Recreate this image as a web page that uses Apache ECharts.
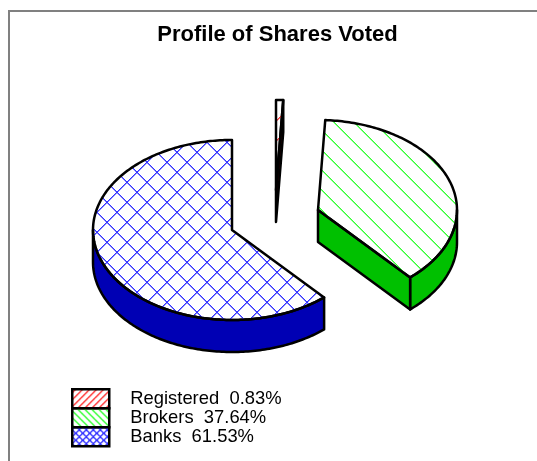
<!DOCTYPE html>
<html>
<head>
<meta charset="utf-8">
<style>
  html, body { margin: 0; padding: 0; background: #fff; }
  #chart { width: 537px; height: 461px; }
</style>
<script src="https://cdn.jsdelivr.net/npm/echarts@6/dist/echarts.min.js"></script>
</head>
<body>
<div id="chart"></div>
<script>
const categories = ['Registered', 'Brokers', 'Banks'];
const shares = [0.83, 37.64, 61.53];

// where each slice's top face sits on the page, pulled apart like the original
const centers = [[276, 190], [318, 210], [232, 230]];
const radiusX = 139;
const radiusY = 90;
const depth = 32;

const hatchColors = ['#ff3333', '#33ff33', '#3333ff'];
const wallColors = ['#c00000', '#00c000', '#0000b4'];
// x+y and x-y offsets of the hatch lines, null when that direction is not used
const hatchPhases = [[16, null], [null, 12], [8, 5]];

// pixel stepped diagonal lines, the reference hatch is not smoothed
function hatch(size, color, phases, soft) {
  const c = document.createElement('canvas');
  c.width = c.height = size;
  const ctx = c.getContext('2d');
  ctx.fillStyle = color;
  const mod = function (v) { return ((v % size) + size) % size; };
  for (let x = 0; x < size; x++) {
    if (phases[0] !== null) {
      const y = mod(phases[0] - x);
      ctx.globalAlpha = 1;
      ctx.fillRect(x, y, 1, 1);
      ctx.globalAlpha = soft;
      ctx.fillRect(x, mod(y + 1), 1, 1);
    }
    if (phases[1] !== null) {
      const y = mod(x - phases[1]);
      ctx.globalAlpha = 1;
      ctx.fillRect(x, y, 1, 1);
      ctx.globalAlpha = soft;
      ctx.fillRect(x, mod(y + 1), 1, 1);
    }
  }
  return c;
}

function rim(cx, cy, from, to) {
  const pts = [];
  const n = Math.max(2, Math.ceil(Math.abs(to - from)));
  for (let i = 0; i <= n; i++) {
    const a = (from + (to - from) * i / n) * Math.PI / 180;
    pts.push([cx + radiusX * Math.cos(a), cy - radiusY * Math.sin(a)]);
  }
  return pts;
}

const lineStyle = { stroke: '#000', lineWidth: 2.5, lineJoin: 'round' };

function sliceRenderer(idx) {
  return function (params, api) {
    const start = api.value(0);
    const end = start - api.value(1) * 3.6;
    const cx = centers[idx][0];
    const cy = centers[idx][1];
    const kids = [];

    // outer wall, only the part of the rim that faces the viewer
    const wallFrom = Math.min(start, 0);
    const wallTo = Math.max(end, -180);
    if (wallFrom > wallTo) {
      const top = rim(cx, cy, wallFrom, wallTo);
      const bottom = top.map(function (p) { return [p[0], p[1] + depth]; }).reverse();
      kids.push({
        type: 'polygon',
        shape: { points: top.concat(bottom) },
        style: Object.assign({ fill: wallColors[idx] }, lineStyle)
      });
    }

    // cut face at the clockwise end of the slice
    if (Math.cos(end * Math.PI / 180) > 1e-6) {
      const edge = rim(cx, cy, end, end)[0];
      kids.push({
        type: 'polygon',
        shape: { points: [[cx, cy], edge, [edge[0], edge[1] + depth], [cx, cy + depth]] },
        style: Object.assign({ fill: wallColors[idx] }, lineStyle)
      });
    }

    kids.push({
      type: 'polygon',
      shape: { points: [[cx, cy]].concat(rim(cx, cy, start, end)) },
      style: Object.assign({
        fill: { image: hatch(20, hatchColors[idx], hatchPhases[idx], 0.6), repeat: 'repeat' }
      }, lineStyle)
    });
    return { type: 'group', children: kids };
  };
}

let startAngle = 90;
const series = categories.map(function (name, i) {
  const row = [startAngle, shares[i]];
  startAngle -= shares[i] * 3.6;
  return {
    name: name,
    type: 'custom',
    coordinateSystem: 'none',
    silent: true,
    z: 2 + i,
    renderItem: sliceRenderer(i),
    data: [row]
  };
});

const chart = echarts.init(document.getElementById('chart'), null, { renderer: 'canvas' });

chart.setOption({
  animation: false,
  backgroundColor: '#fff',
  title: {
    text: 'Profile of Shares Voted',
    left: 272.5,
    top: 19,
    textAlign: 'center',
    textStyle: { fontFamily: 'Liberation Sans', fontSize: 22, fontWeight: 'bold', color: '#000' }
  },
  legend: {
    left: 66,
    top: 383,
    orient: 'vertical',
    itemWidth: 37,
    itemHeight: 19,
    itemGap: -2.5,
    icon: 'rect',
    selectedMode: false,
    formatter: function (name) {
      return name + '  ' + shares[categories.indexOf(name)].toFixed(2) + '%';
    },
    textStyle: {
      fontFamily: 'Liberation Sans',
      fontSize: 18.4,
      lineHeight: 19,
      color: '#000',
      padding: [0, 0, 0, 16]
    },
    data: categories.map(function (name, i) {
      return {
        name: name,
        icon: 'rect',
        itemStyle: {
          color: { image: hatch(7, hatchColors[i], hatchPhases[i], 1), repeat: 'repeat' },
          borderColor: '#000',
          borderWidth: 2.5
        }
      };
    })
  },
  graphic: [
    {
      type: 'polyline',
      silent: true,
      shape: { points: [[9, 461], [9, 11], [537, 11]] },
      style: { stroke: '#808080', lineWidth: 2, fill: null }
    }
  ],
  series: series
});
</script>
</body>
</html>
